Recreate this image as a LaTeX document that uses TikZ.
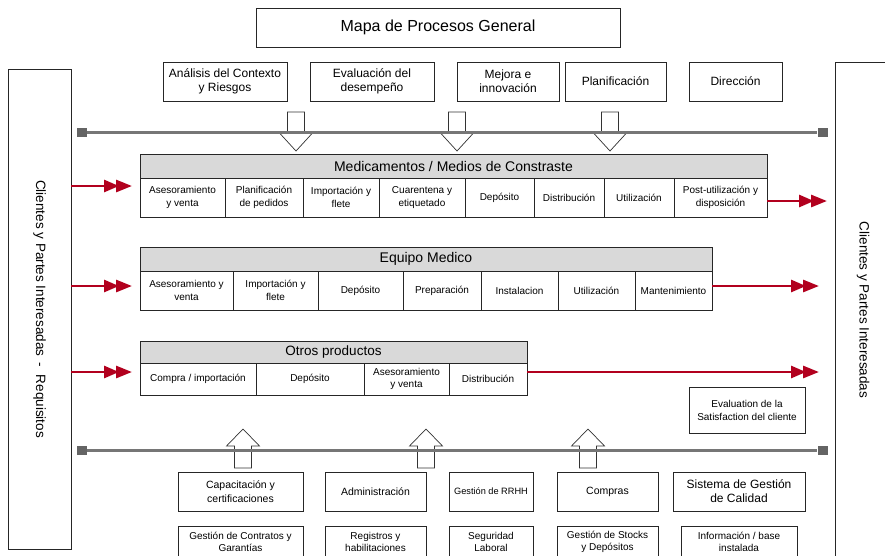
\documentclass[tikz,border=0pt]{standalone}
\usepackage{fontspec}
\setmainfont{Liberation Sans}
\usetikzlibrary{arrows.meta}
\definecolor{flowred}{RGB}{178,0,30}
\definecolor{headgray}{RGB}{217,217,217}
\definecolor{railgray}{RGB}{118,118,118}
\definecolor{railend}{RGB}{100,100,100}
\newcommand\fsz[2]{\fontsize{#1}{#2}\selectfont}
% box given by its corners (x1,y1) (x2,y2) in pixel-like units
\newcommand\pbx[7][]{%
  \node[pbox,#1,minimum width={(#5-#3)*1pt},minimum height={(#6-#4)*1pt}]
    (#2) at ({(#3+#5)/2},{(#4+#6)/2}) {#7};}
\tikzset{
  pbox/.style={draw=black!85,line width=0.7pt,fill=white,inner sep=1pt,
    outer sep=0pt,align=center,font=\fsz{10}{12.5}},
  headbox/.style={fill=headgray,font=\fsz{14}{16}},
  topbox/.style={font=\fsz{12}{14}},
  supbox/.style={font=\fsz{10.5}{13.5}},
  docbox/.style={font=\fsz{10}{12}},
  redarrow/.style={draw=flowred,line width=2.8pt,
    -{Triangle[length=15pt,width=12pt,sep=-3pt]Triangle[length=16pt,width=12pt]}},
  blockarrow/.style={draw=black!80,line width=0.7pt,fill=white},
  rail/.style={draw=railgray,line width=3pt},
  railcap/.style={fill=railend,minimum width=10pt,minimum height=9pt,inner sep=0pt}
}
\begin{document}
\begin{tikzpicture}[x=1pt,y=-1pt]
\useasboundingbox (0,0) rectangle (885,555);
\clip (0,0) rectangle (885,555);

% title
\pbx[font=\fsz{16}{18}]{title}{256}{8}{620}{47}{Mapa de Procesos General}

% strategic processes
\pbx[topbox]{t1}{163}{62}{287}{101}{Análisis del Contexto\\y Riesgos}
\pbx[topbox]{t2}{310}{62}{434}{101}{Evaluación del\\desempeño}
\pbx[topbox]{t3}{457}{62}{559}{101}{Mejora e\\innovación}
\pbx[topbox]{t4}{565}{62}{666}{101}{Planificación}
\pbx[topbox]{t5}{689}{62}{782}{101}{Dirección}

% customers on both sides
\node[pbox,rotate=-90,minimum width=480pt,minimum height=63pt,font=\fsz{13.5}{15}]
  (lbox) at (39.5,309) {Clientes y Partes Interesadas\hspace{6pt}-\hspace{8pt}Requisitos};
\node[pbox,minimum width=70pt,minimum height=520pt,anchor=north west] (rbox) at (835,62) {};
\node[rotate=-90,font=\fsz{13.5}{15},inner sep=0pt] (rlabel) at (863,310) {Clientes y Partes Interesadas};

% down arrows from strategic rail
\foreach \cx in {296,457,610}{
  \draw[blockarrow] (\cx-8.5,112) -- (\cx+8.5,112) -- (\cx+8.5,133) -- (\cx+16.5,133)
    -- (\cx,151) -- (\cx-16.5,133) -- (\cx-8.5,133) -- cycle;}
% up arrows from support rail
\foreach \cx in {243,426,588}{
  \draw[blockarrow] (\cx-8.5,468) -- (\cx+8.5,468) -- (\cx+8.5,446) -- (\cx+16.5,446)
    -- (\cx,429) -- (\cx-16.5,446) -- (\cx-8.5,446) -- cycle;}

% rails
\node[railcap] (r1a) at (82,132) {};
\node[railcap] (r1b) at (822.5,132) {};
\draw[rail] (r1a) -- (r1b);
\node[railcap] (r2a) at (82,450) {};
\node[railcap] (r2b) at (822.5,450) {};
\draw[rail] (r2a) -- (r2b);

% Medicamentos / Medios de Constraste
\pbx[headbox]{mh}{140}{154}{767}{178}{Medicamentos / Medios de Constraste}
\pbx{m1}{140}{178}{225}{217}{Asesoramiento\\y venta}
\pbx{m2}{225}{178}{303}{217}{Planificación\\de pedidos}
\pbx{m3}{303}{178}{379}{217}{Importación y\\flete}
\pbx{m4}{379}{178}{465}{217}{Cuarentena y\\etiquetado}
\pbx{m5}{465}{178}{534}{217}{Depósito}
\pbx{m6}{534}{178}{604}{217}{Distribución}
\pbx{m7}{604}{178}{674}{217}{Utilización}
\pbx{m8}{674}{178}{767}{217}{Post-utilización y\\disposición}

% Equipo Medico
\pbx[headbox]{eh}{140}{247}{712}{271}{Equipo Medico}
\pbx{e1}{140}{271}{233}{310}{Asesoramiento y\\venta}
\pbx{e2}{233}{271}{318}{310}{Importación y\\flete}
\pbx{e3}{318}{271}{403}{310}{Depósito}
\pbx{e4}{403}{271}{481}{310}{Preparación}
\pbx{e5}{481}{271}{558}{310}{Instalacion}
\pbx{e6}{558}{271}{635}{310}{Utilización}
\pbx{e7}{635}{271}{712}{310}{Mantenimiento}

% Otros productos
\pbx[headbox,font=\fsz{13.5}{15}]{oh}{140}{341}{527}{363}{Otros productos}
\pbx{o1}{140}{363}{256}{395}{Compra / importación}
\pbx{o2}{256}{363}{364}{395}{Depósito}
\pbx{o3}{364}{363}{449}{395}{Asesoramiento\\y venta}
\pbx{o4}{449}{363}{527}{395}{Distribución}

% customer satisfaction
\pbx[docbox,font=\fsz{10}{13}]{sat}{689}{387}{805}{433}{Evaluation de la\\Satisfaction del cliente}

% support processes
\pbx[supbox]{s1}{178}{472}{303}{511}{Capacitación y\\certificaciones}
\pbx[supbox]{s2}{325}{472}{426}{511}{Administración}
\pbx[supbox,font=\fsz{9.2}{11}]{s3}{449}{472}{533}{511}{Gestión de RRHH}
\pbx[supbox]{s4}{557}{472}{658}{511}{Compras}
\pbx[topbox]{s5}{673}{472}{805}{511}{Sistema de Gestión\\de Calidad}
\pbx[docbox]{d1}{178}{526}{303}{558}{Gestión de Contratos y\\Garantías}
\pbx[docbox]{d2}{325}{526}{426}{558}{Registros y\\habilitaciones}
\pbx[docbox]{d3}{449}{526}{533}{558}{Seguridad\\Laboral}
\pbx[docbox]{d4}{557}{526}{658}{558}{Gestión de Stocks\\y Depósitos}
\pbx[docbox]{d5}{681}{526}{797}{558}{Información / base\\instalada}

% requirements in, products out
\coordinate (inM) at (132,186);
\coordinate (inE) at (132,286);
\coordinate (inO) at (132,372);
\coordinate (outM) at (827,201);
\coordinate (outE) at (819,286);
\coordinate (outO) at (819,372);
\draw[redarrow] (lbox.north |- inM) -- (inM);
\draw[redarrow] (lbox.north |- inE) -- (inE);
\draw[redarrow] (lbox.north |- inO) -- (inO);
\draw[redarrow] (m8.east |- outM) -- (outM);
\draw[redarrow] (e7.east |- outE) -- (outE);
\draw[redarrow] (o4.east |- outO) -- (outO);
\end{tikzpicture}
\end{document}
